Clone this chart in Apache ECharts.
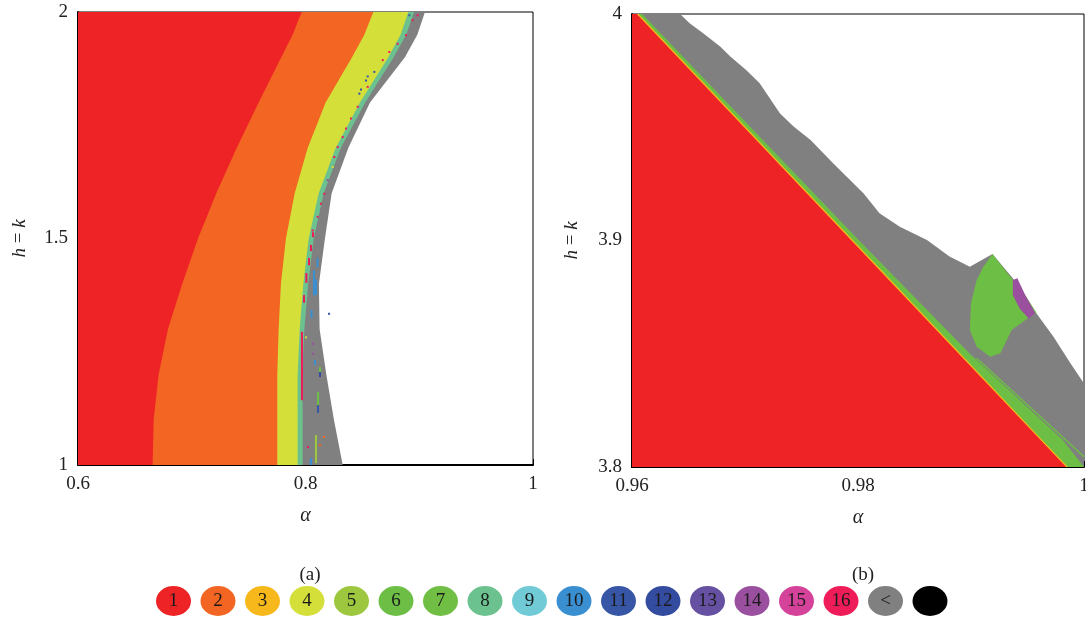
<!DOCTYPE html>
<html>
<head>
<meta charset="utf-8">
<script src="https://cdn.jsdelivr.net/npm/echarts@6/dist/echarts.min.js"></script>
<style>html,body{margin:0;padding:0;background:#fff}#c{width:1086px;height:622px}</style>
</head>
<body>
<div id="c"></div>
<script>
// ---------- Panel (a): region boundaries, x = alpha where each region ends, per h = k level ----------
const aY        = [1.0, 1.1, 1.2, 1.3, 1.4, 1.5, 1.6, 1.7, 1.8, 1.9, 1.95, 2.0];
const aEdge1    = [0.6656, 0.6665, 0.6709, 0.6791, 0.6917, 0.7055, 0.7216, 0.7395, 0.7588, 0.7787, 0.7887, 0.7966];
const aEdge2    = [0.7752, 0.7752, 0.7752, 0.7764, 0.7784, 0.7828, 0.7905, 0.8019, 0.8177, 0.8409, 0.8517, 0.8596];
const aEdge4    = [0.7931, 0.7931, 0.7931, 0.7949, 0.7981, 0.8028, 0.8116, 0.8265, 0.8479, 0.8728, 0.8836, 0.8904];
const aEdge8    = [0.7975, 0.7975, 0.7972, 0.7990, 0.8024, 0.8072, 0.8160, 0.8310, 0.8525, 0.8775, 0.8885, 0.8955];
const aEdgeGray = [0.8327, 0.8250, 0.8183, 0.8124, 0.8118, 0.8171, 0.8230, 0.8376, 0.8567, 0.8874, 0.8983, 0.9050];
// scattered cells inside the boundary band: [alpha, hk_from, hk_to, class]
const aSpeckles = [
  [0.8057, 1.503, 1.514, 16], [0.8039, 1.472, 1.486, 16], [0.8022, 1.441, 1.457, 16],
  [0.8096, 1.437, 1.457, 10], [0.7999, 1.402, 1.424, 16], [0.8066, 1.375, 1.430, 10],
  [0.8084, 1.375, 1.410, 10], [0.7978, 1.358, 1.375, 16], [0.8044, 1.324, 1.342, 10],
  [0.8198, 1.333, 1.336, 11], [0.7960, 1.143, 1.294, 16], [0.7995, 1.281, 1.284, 4],
  [0.8057, 1.267, 1.270, 14], [0.8057, 1.245, 1.248, 14], [0.8074, 1.221, 1.232, 10],
  [0.8118, 1.205, 1.216, 6], [0.8118, 1.194, 1.205, 12], [0.8101, 1.132, 1.161, 6],
  [0.8101, 1.115, 1.132, 11], [0.8083, 1.004, 1.066, 5], [0.8039, 1.000, 1.015, 10],
  [0.8154, 1.061, 1.064, 2], [0.8118, 1.043, 1.046, 2], [0.8013, 1.039, 1.042, 16],
  [0.8977, 1.992, 1.995, 16], [0.8933, 1.981, 1.984, 16], [0.8874, 1.948, 1.951, 16],
  [0.8801, 1.929, 1.932, 16], [0.8728, 1.911, 1.914, 16], [0.8670, 1.893, 1.896, 16],
  [0.8596, 1.867, 1.870, 11], [0.8538, 1.834, 1.837, 16], [0.8450, 1.790, 1.793, 16],
  [0.8391, 1.764, 1.767, 16], [0.8347, 1.742, 1.745, 16], [0.8318, 1.723, 1.726, 16],
  [0.8274, 1.701, 1.704, 16], [0.8244, 1.679, 1.682, 16], [0.8230, 1.657, 1.660, 4],
  [0.8186, 1.628, 1.631, 14], [0.8156, 1.598, 1.601, 16], [0.8127, 1.576, 1.579, 16],
  [0.8098, 1.547, 1.550, 16], [0.8054, 1.517, 1.520, 16], [0.8464, 1.819, 1.822, 11],
  [0.8479, 1.828, 1.831, 11], [0.8523, 1.848, 1.851, 11], [0.8538, 1.857, 1.860, 11],
  [0.8904, 1.992, 1.995, 11]
];

// ---------- Panel (b) ----------
const bY         = [3.8, 3.812, 3.85, 3.9, 4.0];
const bEdge1     = [0.9985, 0.99622, 0.9890, 0.9795, 0.9605];
const bEdgeGreen = [1.0, 0.9981, 0.9899, 0.9801, 0.9609];
const bGrayX = [0.9605, 0.96425, 0.9651, 0.9663, 0.9678, 0.9687, 0.9701, 0.9713, 0.9731, 0.9743, 0.9758, 0.9778,
                0.9805, 0.9819, 0.9837, 0.9861, 0.9881, 0.9899, 0.9919, 0.9937, 0.9958, 0.9973, 0.9988, 1.0];
const bGrayY = [4.0, 4.0, 3.9959, 3.9915, 3.9856, 3.9812, 3.9753, 3.9694, 3.9561, 3.9503, 3.9444, 3.9341,
                3.9208, 3.912, 3.9061, 3.9002, 3.8929, 3.8884, 3.894, 3.8833, 3.8678, 3.8575, 3.8458, 3.8369];
const bPatchX = [0.9919, 0.9937, 0.9949, 0.9958, 0.9950, 0.9936, 0.9926, 0.9917, 0.9905, 0.9899, 0.9900, 0.9905, 0.9911];
const bPatchY = [3.894, 3.8826, 3.8752, 3.868, 3.8656, 3.8605, 3.8502, 3.8487, 3.8531, 3.8605, 3.8723, 3.8826, 3.8884];
const bPurpleX = [0.9937, 0.9941, 0.9948, 0.9957, 0.9951, 0.9943, 0.9937];
const bPurpleY = [3.8826, 3.8833, 3.8759, 3.8679, 3.8656, 3.8700, 3.8759];
const bLineX = [0.9905, 1.0];
const bLineY = [3.848, 3.8045];

// ---------- Legend ----------
const legendLabels = ['1','2','3','4','5','6','7','8','9','10','11','12','13','14','15','16','<',''];
const classColors = {
  1:'#EE2326', 2:'#F26522', 3:'#F7B81C', 4:'#D5DF3A', 5:'#9DC73F', 6:'#6DBE45', 7:'#70BF44', 8:'#6CC28F',
  9:'#71CBD6', 10:'#3A8FD1', 11:'#3757A6', 12:'#344C9F', 13:'#6650A1', 14:'#9A4F9F', 15:'#D4429A', 16:'#EE1D5A',
  17:'#808080', 18:'#000000'
};

// ---------- build ----------
const SERIF = '"Liberation Serif", "DejaVu Serif", serif';
const chart = echarts.init(document.getElementById('c'), null, {renderer: 'canvas'});

function polygonSeries(idx, pts, color) {
  return {
    type: 'custom', xAxisIndex: idx, yAxisIndex: idx, silent: true, clip: true,
    data: pts, encode: {x: 0, y: 1},
    renderItem: function (params, api) {
      if (params.dataIndex !== 0) return null;
      return {type: 'polygon', shape: {points: pts.map(p => api.coord(p))}, style: {fill: color}};
    }
  };
}
function leftBand(ys, edge, xmin) {
  const pts = [[xmin, ys[0]]];
  ys.forEach((y, i) => pts.push([edge[i], y]));
  pts.push([xmin, ys[ys.length - 1]]);
  return pts;
}
const CELL_W = 0.0018, MIN_H = 2;

const series = [];
// panel a (draw from outer to inner)
series.push(polygonSeries(0, leftBand(aY, aEdgeGray, 0.6), classColors[17]));
series.push(polygonSeries(0, leftBand(aY, aEdge8, 0.6), classColors[8]));
series.push(polygonSeries(0, leftBand(aY, aEdge4, 0.6), classColors[4]));
series.push(polygonSeries(0, leftBand(aY, aEdge2, 0.6), classColors[2]));
series.push(polygonSeries(0, leftBand(aY, aEdge1, 0.6), classColors[1]));
series.push({
  type: 'custom', xAxisIndex: 0, yAxisIndex: 0, silent: true, clip: true,
  data: aSpeckles, encode: {x: 0, y: [1, 2]},
  renderItem: function (params, api) {
    const x = api.value(0), y0 = api.value(1), y1 = api.value(2), c = api.value(3);
    const p0 = api.coord([x, y1]), p1 = api.coord([x + CELL_W, y0]);
    const h = Math.max(p1[1] - p0[1], MIN_H);
    return {type: 'rect', shape: {x: p0[0], y: p0[1], width: p1[0] - p0[0], height: h}, style: {fill: classColors[c]}};
  }
});
// panel b
const grayPts = [[0.96, 4.0]];
bGrayX.forEach((x, i) => grayPts.push([x, bGrayY[i]]));
grayPts.push([1.0, 3.8], [0.96, 3.8]);
series.push(polygonSeries(1, grayPts, classColors[17]));
series.push(polygonSeries(1, bPatchX.map((x, i) => [x, bPatchY[i]]), classColors[6]));
series.push(polygonSeries(1, bPurpleX.map((x, i) => [x, bPurpleY[i]]), classColors[14]));
series.push({
  type: 'line', xAxisIndex: 1, yAxisIndex: 1, silent: true, symbol: 'none',
  data: bLineX.map((x, i) => [x, bLineY[i]]), lineStyle: {color: classColors[6], width: 1.5}
});
series.push(polygonSeries(1, leftBand(bY, bEdgeGreen, 0.96), classColors[6]));
series.push(polygonSeries(1, leftBand(bY, bEdge1, 0.96), classColors[1]));
series.push({
  type: 'line', xAxisIndex: 1, yAxisIndex: 1, silent: true, symbol: 'none',
  data: bEdge1.map((x, i) => [x, bY[i]]), lineStyle: {color: classColors[3], width: 1.2}
});
// legend
series.push({
  type: 'scatter', xAxisIndex: 2, yAxisIndex: 2, silent: true,
  symbol: 'circle', symbolSize: [35, 30],
  data: legendLabels.map((l, i) => ({value: [i, 0], itemStyle: {color: classColors[i + 1], opacity: 1}})),
  label: {show: true, position: 'inside', formatter: p => legendLabels[p.dataIndex],
          color: '#1a1a1a', fontFamily: SERIF, fontSize: 19}
});

function valueAxis(grid, min, max, interval, pos, name, gap, nameStyle) {
  return {
    type: 'value', gridIndex: grid, min, max, interval, position: pos,
    name, nameLocation: 'middle', nameGap: gap, nameTextStyle: nameStyle,
    axisLine: {show: true, lineStyle: {color: '#000', width: 2}},
    axisTick: {show: true, inside: true, length: 6, lineStyle: {color: '#000', width: 1}},
    axisLabel: {color: '#222', fontFamily: SERIF, fontSize: 19, margin: 10, showMinLabel: true, showMaxLabel: true},
    splitLine: {show: false}
  };
}
const alphaStyle = {fontFamily: SERIF, fontSize: 20, fontStyle: 'italic', color: '#222'};
const hkStyle = {fontFamily: SERIF, fontSize: 19, color: '#222',
  rich: {i: {fontFamily: SERIF, fontSize: 19, fontStyle: 'italic', color: '#222'}}};

chart.setOption({
  animation: false,
  backgroundColor: '#fff',
  title: [
    {text: '(a)', left: 305, top: 561, textAlign: 'center', textStyle: {fontFamily: SERIF, fontSize: 19, fontWeight: 'normal', color: '#222'}},
    {text: '(b)', left: 858, top: 561, textAlign: 'center', textStyle: {fontFamily: SERIF, fontSize: 19, fontWeight: 'normal', color: '#222'}}
  ],
  grid: [
    {left: 78, top: 12, width: 455, height: 453, show: true, borderColor: '#000', borderWidth: 1, backgroundColor: '#fff', containLabel: false, outerBoundsMode: 'none'},
    {left: 632, top: 14, width: 452, height: 453, show: true, borderColor: '#000', borderWidth: 1, backgroundColor: '#fff', containLabel: false, outerBoundsMode: 'none'},
    {left: 151.25, top: 586, width: 801, height: 30, show: false, containLabel: false, outerBoundsMode: 'none'}
  ],
  xAxis: [
    valueAxis(0, 0.6, 1, 0.2, 'bottom', 'α', 41, alphaStyle),
    valueAxis(1, 0.96, 1, 0.02, 'bottom', 'α', 41, alphaStyle),
    {type: 'category', gridIndex: 2, data: legendLabels, show: false, boundaryGap: true}
  ],
  yAxis: [
    valueAxis(0, 1, 2, 0.5, 'left', '{i|h} = {i|k}', 49, hkStyle),
    valueAxis(1, 3.8, 4, 0.1, 'left', '{i|h} = {i|k}', 51, hkStyle),
    {type: 'value', gridIndex: 2, min: -1, max: 1, show: false}
  ],
  series
});
</script>
</body>
</html>
